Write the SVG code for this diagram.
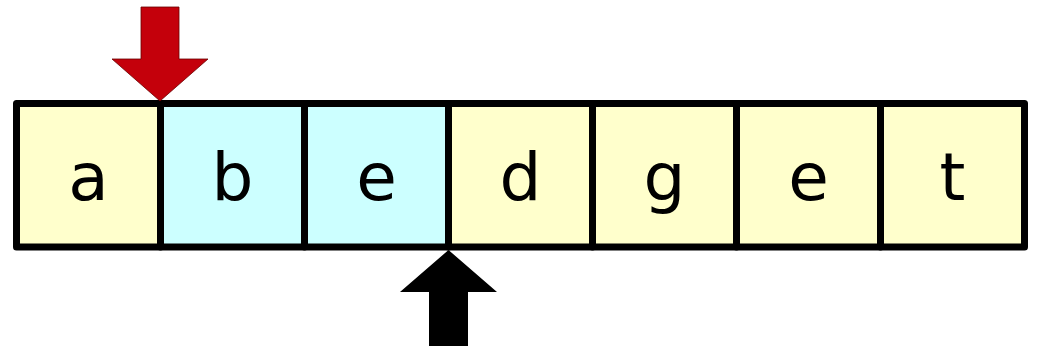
<svg xmlns="http://www.w3.org/2000/svg" width="1038" height="346" viewBox="0 0 1038 346">
<style>
.c rect{stroke:#000;stroke-width:7;stroke-linejoin:round}
.y{fill:#ffffcc}
.b{fill:#ccffff}
.c text{font-family:"DejaVu Sans",sans-serif;font-size:66px;fill:#000;text-anchor:middle}
</style>
<g id="cell-a" class="c"><rect class="y" x="16.5" y="103.5" width="144" height="143.5"/><text x="88.5" y="200">a</text></g>
<g id="cell-b" class="c"><rect class="b" x="160.5" y="103.5" width="144" height="143.5"/><text x="232.5" y="200">b</text></g>
<g id="cell-e1" class="c"><rect class="b" x="304.5" y="103.5" width="144" height="143.5"/><text x="376.5" y="200">e</text></g>
<g id="cell-d" class="c"><rect class="y" x="448.5" y="103.5" width="144" height="143.5"/><text x="520.5" y="200">d</text></g>
<g id="cell-g" class="c"><rect class="y" x="592.5" y="103.5" width="144" height="143.5"/><text x="664.5" y="200">g</text></g>
<g id="cell-e2" class="c"><rect class="y" x="736.5" y="103.5" width="144" height="143.5"/><text x="808.5" y="200">e</text></g>
<g id="cell-t" class="c"><rect class="y" x="880.5" y="103.5" width="144" height="143.5"/><text x="952.5" y="200">t</text></g>
<g id="connectors">
<polygon id="arrow-red" points="141,7 179,7 179,59 208,59 160,101 112,59 141,59" fill="#c4000b" stroke="#6a0000" stroke-width="0.8"/>
<polygon id="arrow-black" points="448.5,250 497,292 468,292 468,346 429,346 429,292 400,292" fill="#000"/>
</g>
</svg>
